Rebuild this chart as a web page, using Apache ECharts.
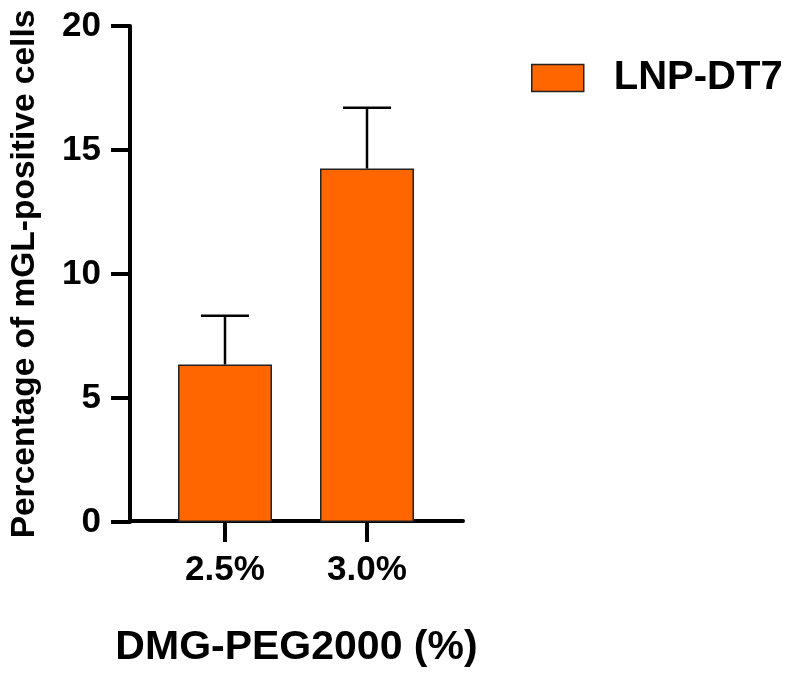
<!DOCTYPE html>
<html>
<head>
<meta charset="utf-8">
<script src="https://cdn.jsdelivr.net/npm/echarts@6/dist/echarts.min.js"></script>
<style>
html,body{margin:0;padding:0;background:#fff;}
#chart{width:790px;height:673px;}
</style>
</head>
<body>
<div id="chart"></div>
<script>
var categories = ['2.5%', '3.0%'];
var seriesName = 'LNP-DT7';
var means = [6.35, 14.25];
var errors = [1.97, 2.45];
var yTicks = [0, 5, 10, 15, 20];

var FONT = '"Liberation Sans", Arial, sans-serif';
var chart = echarts.init(document.getElementById('chart'));

var errData = categories.map(function (c, i) { return [i, means[i], means[i] + errors[i]]; });

var option = {
  animation: false,
  backgroundColor: '#fff',
  grid: [
    { left: 154, right: 352, top: 26, bottom: 151 },
    { left: 130, right: 327, top: 26, bottom: 151 }
  ],
  legend: {
    data: [{ name: seriesName, icon: 'rect' }],
    left: 526, top: 53,
    itemWidth: 52, itemHeight: 27, itemGap: 10,
    textStyle: { fontFamily: FONT, fontWeight: 'bold', fontSize: 40, color: '#000', padding: [0, 0, 0, 25] },
    itemStyle: { borderColor: '#222', borderWidth: 1.5 }
  },
  xAxis: [
    {
      type: 'category', gridIndex: 0, data: categories,
      axisLine: { show: false },
      axisTick: { show: true, alignWithLabel: true, length: 20, lineStyle: { color: '#000', width: 4 } },
      axisLabel: { fontFamily: FONT, fontWeight: 'bold', fontSize: 35, color: '#000', margin: 31 },
      splitLine: { show: false }
    },
    {
      type: 'value', gridIndex: 1, min: 0, max: 1,
      axisLine: { show: true, lineStyle: { color: '#000', width: 4 } },
      axisTick: { show: false }, axisLabel: { show: false }, splitLine: { show: false },
      name: 'DMG-PEG2000 (%)', nameLocation: 'middle', nameGap: 106,
      nameTextStyle: { fontFamily: FONT, fontWeight: 'bold', fontSize: 41, color: '#000' }
    }
  ],
  yAxis: [
    {
      type: 'value', gridIndex: 0, min: yTicks[0], max: yTicks[yTicks.length - 1], interval: 5,
      offset: 24,
      axisLine: { show: true, lineStyle: { color: '#000', width: 4 } },
      axisTick: { show: true, length: 19, lineStyle: { color: '#000', width: 4 } },
      axisLabel: { fontFamily: FONT, fontWeight: 'bold', fontSize: 35, color: '#000', margin: 29 },
      splitLine: { show: false },
      name: 'Percentage of mGL-positive cells', nameLocation: 'middle', nameGap: 88,
      nameTextStyle: { fontFamily: FONT, fontWeight: 'bold', fontSize: 33.5, color: '#000' }
    },
    {
      type: 'value', gridIndex: 1, min: 0, max: 20, show: false
    }
  ],
  series: [
    {
      name: seriesName, type: 'bar', xAxisIndex: 0, yAxisIndex: 0,
      data: means, barWidth: 94,
      itemStyle: { color: '#FF6600', borderColor: '#222', borderWidth: 1.5 }
    },
    {
      name: 'err', type: 'custom', xAxisIndex: 0, yAxisIndex: 0,
      data: errData, z: 1,
      renderItem: function (params, api) {
        var x = api.value(0);
        var lo = api.coord([x, api.value(1)]);
        var hi = api.coord([x, api.value(2)]);
        var half = 24;
        return {
          type: 'group',
          children: [
            { type: 'line', shape: { x1: lo[0], y1: lo[1], x2: hi[0], y2: hi[1] }, style: { stroke: '#000', lineWidth: 2.5 } },
            { type: 'line', shape: { x1: hi[0] - half, y1: hi[1], x2: hi[0] + half, y2: hi[1] }, style: { stroke: '#000', lineWidth: 2.5 } }
          ]
        };
      }
    }
  ]
};
chart.setOption(option);
</script>
</body>
</html>
